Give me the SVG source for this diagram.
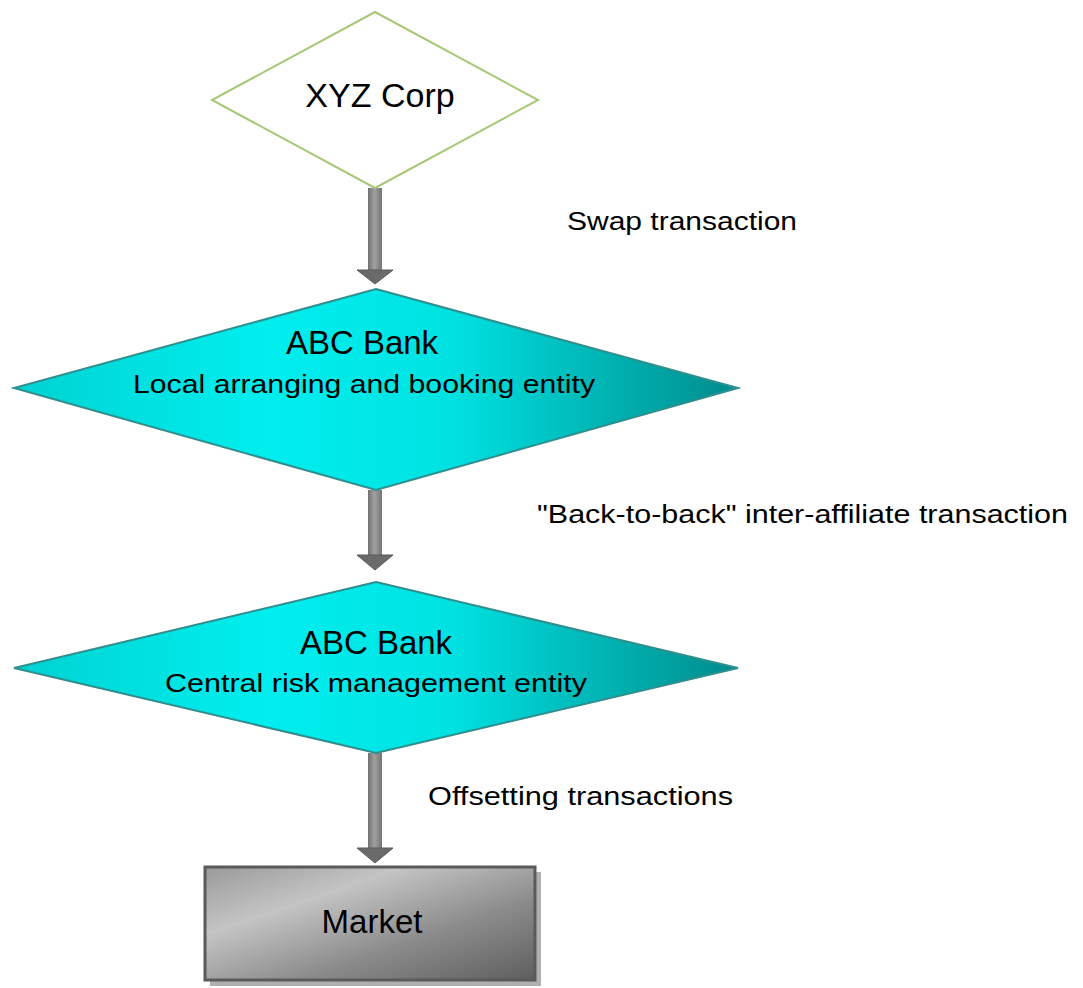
<svg xmlns="http://www.w3.org/2000/svg" width="1083" height="988" viewBox="0 0 1083 988">
<defs>
<style>
text{font-family:"Liberation Sans",Arial,sans-serif;fill:#000;}
.t{text-anchor:middle;}
.lbl{font-size:25px;}
.dia{fill:url(#cyan);stroke:#2f8f8f;stroke-width:2;}
.shaft{fill:url(#shaftg);}
.head{fill:#6a6a6a;stroke:#5a5a5a;stroke-width:1;}
</style>
<linearGradient id="cyan" x1="0" y1="0" x2="1" y2="0">
<stop offset="0" stop-color="#00d2d2"/>
<stop offset="0.35" stop-color="#00eeee"/>
<stop offset="0.6" stop-color="#00e2e2"/>
<stop offset="1" stop-color="#008c8c"/>
</linearGradient>
<linearGradient id="shaftg" x1="0" y1="0" x2="1" y2="0">
<stop offset="0" stop-color="#707070"/>
<stop offset="0.45" stop-color="#a0a0a0"/>
<stop offset="1" stop-color="#747474"/>
</linearGradient>
<linearGradient id="gray" x1="0" y1="0" x2="1" y2="1">
<stop offset="0" stop-color="#9a9a9a"/>
<stop offset="0.3" stop-color="#c4c4c4"/>
<stop offset="0.65" stop-color="#8a8a8a"/>
<stop offset="1" stop-color="#5e5e5e"/>
</linearGradient>
</defs>

<g id="connectors">
<rect class="shaft" x="368" y="188" width="14" height="84"/>
<polygon class="head" points="357,270 393,270 375,284"/>
<rect class="shaft" x="368" y="490" width="14" height="66"/>
<polygon class="head" points="357,555 393,555 375,570"/>
<rect class="shaft" x="368" y="753" width="14" height="96"/>
<polygon class="head" points="357,848 393,848 375,863"/>
</g>

<g id="edge-labels">
<text class="lbl" x="567" y="230" textLength="230" lengthAdjust="spacingAndGlyphs">Swap transaction</text>
<text class="lbl" x="537" y="523" textLength="531" lengthAdjust="spacingAndGlyphs">"Back-to-back" inter-affiliate transaction</text>
<text class="lbl" x="428" y="805" textLength="305" lengthAdjust="spacingAndGlyphs">Offsetting transactions</text>
</g>

<g id="xyz">
<polygon points="375,12 538,100 375,188 212,100" fill="#fff" stroke="#a8c878" stroke-width="2"/>
<text class="t" x="380" y="107" font-size="34">XYZ Corp</text>
</g>

<g id="abc-local">
<polygon class="dia" points="376,289 738,388 376,490 14,388"/>
<text class="t" x="362" y="354" font-size="33">ABC Bank</text>
<text x="133" y="393" font-size="26" textLength="462" lengthAdjust="spacingAndGlyphs">Local arranging and booking entity</text>
</g>

<g id="abc-central">
<polygon class="dia" points="376,582 738,668 376,753 14,668"/>
<text class="t" x="376" y="654" font-size="33">ABC Bank</text>
<text x="165" y="692" font-size="26" textLength="422" lengthAdjust="spacingAndGlyphs">Central risk management entity</text>
</g>

<g id="market">
<rect x="210" y="872" width="331" height="114" fill="#b0b0b0"/>
<rect x="205" y="867" width="330" height="113" fill="url(#gray)" stroke="#5a5a5a" stroke-width="3"/>
<text class="t" x="372" y="933" font-size="33">Market</text>
</g>
</svg>
